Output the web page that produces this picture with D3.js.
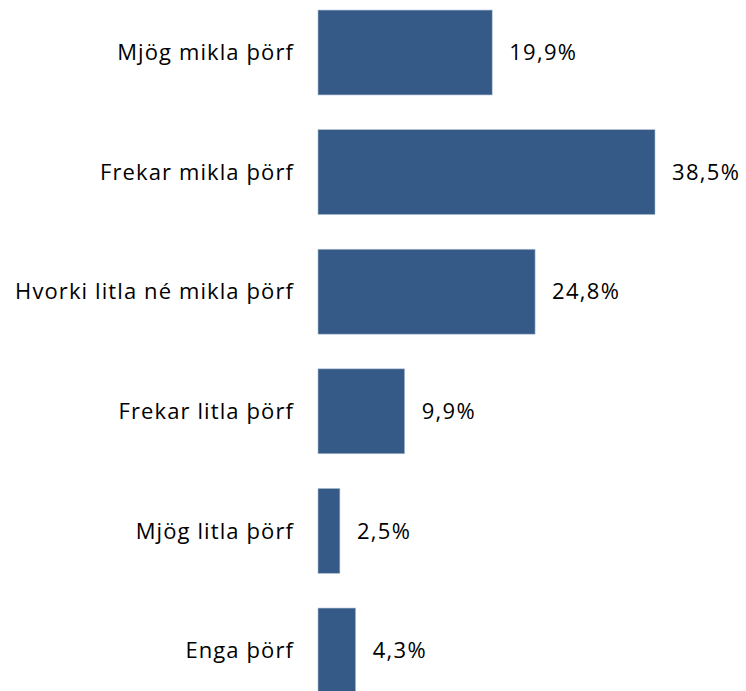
<!DOCTYPE html>
<html>
<head>
<meta charset="utf-8">
<script src="https://cdnjs.cloudflare.com/ajax/libs/d3/7.8.5/d3.min.js"></script>
<style>
  body { margin: 0; background: #fff; }
  svg { display: block; }
  text { font-family: "Open Sans", sans-serif; fill: #000; font-size: 22px; }
</style>
</head>
<body>
<div id="chart"></div>
<script>
var width = 746;
var height = 691;

var categories = ["Mjög mikla þörf", "Frekar mikla þörf", "Hvorki litla né mikla þörf",
    "Frekar litla þörf", "Mjög litla þörf", "Enga þörf"];
var values = [19.9, 38.5, 24.8, 9.9, 2.5, 4.3];
var valueLabels = ["19,9%", "38,5%", "24,8%", "9,9%", "2,5%", "4,3%"];

var svg = d3.select("#chart").append("svg")
    .attr("width", width)
    .attr("height", height);

var x = d3.scaleLinear()
    .domain([0, 38.5])
    .range([318, 655]);

var y = d3.scaleBand()
    .domain(categories)
    .range([-7.3, 710.3])
    .paddingInner(0.29)
    .paddingOuter(0.145);

var rows = categories.map(function (c, i) {
    return { cat: c, value: values[i], label: valueLabels[i] };
});

svg.selectAll("rect.bar")
    .data(rows)
    .enter().append("rect")
    .attr("class", "bar")
    .attr("x", x(0))
    .attr("y", function (d) { return y(d.cat); })
    .attr("width", function (d) { return x(d.value) - x(0); })
    .attr("height", y.bandwidth())
    .attr("fill", "#355a87")
    .attr("stroke", "#aebfd3")
    .attr("stroke-width", 0.6);

// category labels (letter spacing widens Open Sans toward the original)
svg.selectAll("text.cat")
    .data(rows)
    .enter().append("text")
    .attr("class", "cat")
    .attr("x", 294)
    .attr("y", function (d) { return y(d.cat) + y.bandwidth() / 2; })
    .attr("dy", "0.35em")
    .attr("text-anchor", "end")
    .style("letter-spacing", "1.1px")
    .text(function (d) { return d.cat; });

// value labels
svg.selectAll("text.val")
    .data(rows)
    .enter().append("text")
    .attr("class", "val")
    .attr("x", function (d) { return x(d.value) + 17; })
    .attr("y", function (d) { return y(d.cat) + y.bandwidth() / 2; })
    .attr("dy", "0.35em")
    .style("letter-spacing", "1.3px")
    .text(function (d) { return d.label; });
</script>
</body>
</html>
